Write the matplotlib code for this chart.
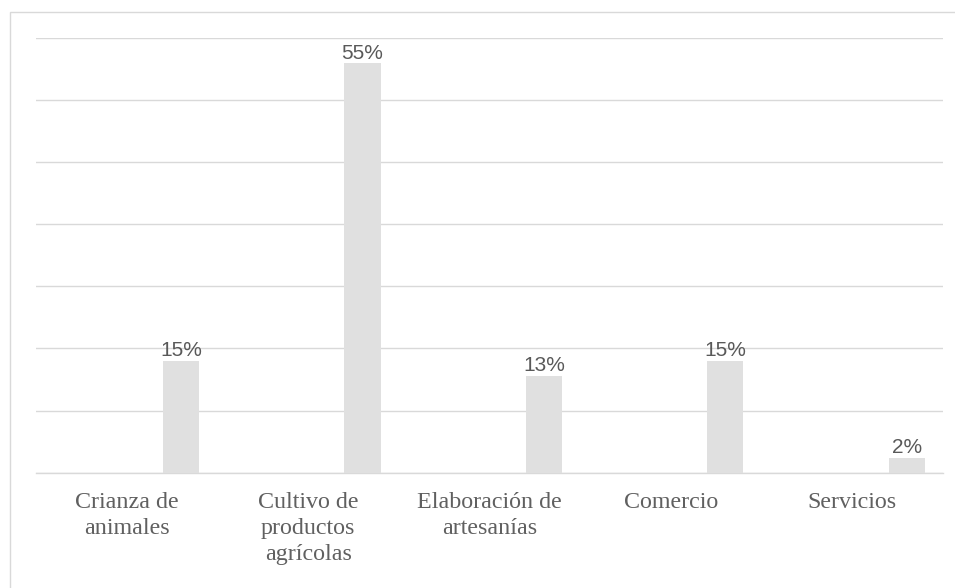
import numpy as np
import matplotlib
matplotlib.use("Agg")
from matplotlib import pyplot as plt
from matplotlib.patches import Rectangle

categorias = ["Crianza de\nanimales", "Cultivo de\nproductos\nagrícolas",
              "Elaboración de\nartesanías", "Comercio", "Servicios"]
porcentajes = [0.15, 0.55, 0.13, 0.15, 0.02]
etiquetas = ["15%", "55%", "13%", "15%", "2%"]

W, H = 955, 588
fig = plt.figure(figsize=(W / 100, H / 100), dpi=100)

# marco exterior del gráfico (solo se ven el borde izquierdo y el superior)
fig.patches.append(Rectangle((10 / W, -0.1), 1.2, 1.1 - 12 / H, transform=fig.transFigure,
                             fill=False, edgecolor="#d9d9d9", linewidth=1.0))

ax = fig.add_axes([36 / W, 1 - 472.6 / H, (943 - 36) / W, (472.6 - 38) / H])

x = np.arange(len(categorias))
ymax = 0.584
ax.bar(x + 0.3, porcentajes, width=0.2, color="#e0e0e0", zorder=3)

for xi, v, t in zip(x, porcentajes, etiquetas):
    ax.text(xi + 0.3, v + 0.001, t, ha="center", va="bottom",
            fontsize=15, color="#595959", family="Liberation Sans", zorder=4)

ax.set_xlim(-0.5, len(categorias) - 0.5)
ax.set_ylim(0, ymax)
ax.set_yticks(np.linspace(0, ymax, 8))
ax.yaxis.grid(True, color="#d9d9d9", linewidth=1.0, zorder=0)
ax.tick_params(axis="y", left=False, labelleft=False)
ax.set_xticks(x)
ax.set_xticklabels(categorias, family="Liberation Serif", fontsize=17.3,
                   color="#606060", linespacing=1.3, va="top")
ax.tick_params(axis="x", length=0, pad=14)
for s in ["top", "right", "left"]:
    ax.spines[s].set_visible(False)
ax.spines["bottom"].set_color("#d9d9d9")
ax.spines["bottom"].set_linewidth(1.0)

fig.savefig("out.png", dpi=100)
